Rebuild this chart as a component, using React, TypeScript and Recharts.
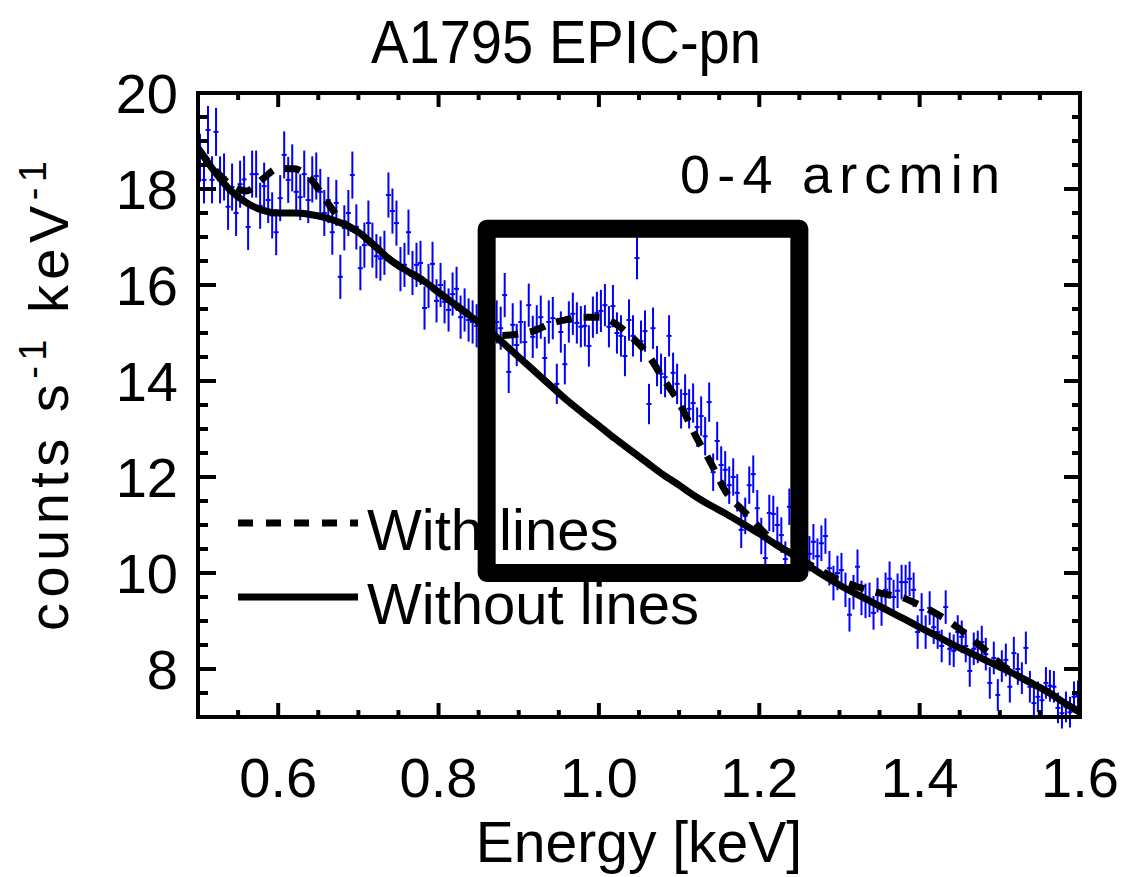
import React from 'react';
import {
  ComposedChart,
  Line,
  Scatter,
  ErrorBar,
  XAxis,
  YAxis,
  ReferenceArea,
  Legend,
} from 'recharts';

const FONT = '"Liberation Sans", Arial, sans-serif';

// spectral bins, keV
const energy = [
  0.5025, 0.5075, 0.5125, 0.5175, 0.5225, 0.5275, 0.5325, 0.5375, 0.5425, 0.5475, 0.5525, 0.5575, 0.5625, 0.5675, 0.5725, 0.5775, 0.5825, 0.5875, 0.5925, 0.5975,
  0.6025, 0.6075, 0.6125, 0.6175, 0.6225, 0.6275, 0.6325, 0.6375, 0.6425, 0.6475, 0.6525, 0.6575, 0.6625, 0.6675, 0.6725, 0.6775, 0.6825, 0.6875, 0.6925, 0.6975,
  0.7025, 0.7075, 0.7125, 0.7175, 0.7225, 0.7275, 0.7325, 0.7375, 0.7425, 0.7475, 0.7525, 0.7575, 0.7625, 0.7675, 0.7725, 0.7775, 0.7825, 0.7875, 0.7925, 0.7975,
  0.8025, 0.8075, 0.8125, 0.8175, 0.8225, 0.8275, 0.8325, 0.8375, 0.8425, 0.8475, 0.8525, 0.8575, 0.8625, 0.8675, 0.8725, 0.8775, 0.8825, 0.8875, 0.8925, 0.8975,
  0.9025, 0.9075, 0.9125, 0.9175, 0.9225, 0.9275, 0.9325, 0.9375, 0.9425, 0.9475, 0.9525, 0.9575, 0.9625, 0.9675, 0.9725, 0.9775, 0.9825, 0.9875, 0.9925, 0.9975,
  1.0025, 1.0075, 1.0125, 1.0175, 1.0225, 1.0275, 1.0325, 1.0375, 1.0425, 1.0475, 1.0525, 1.0575, 1.0625, 1.0675, 1.0725, 1.0775, 1.0825, 1.0875, 1.0925, 1.0975,
  1.1025, 1.1075, 1.1125, 1.1175, 1.1225, 1.1275, 1.1325, 1.1375, 1.1425, 1.1475, 1.1525, 1.1575, 1.1625, 1.1675, 1.1725, 1.1775, 1.1825, 1.1875, 1.1925, 1.1975,
  1.2025, 1.2075, 1.2125, 1.2175, 1.2225, 1.2275, 1.2325, 1.2375, 1.2425, 1.2475, 1.2525, 1.2575, 1.2625, 1.2675, 1.2725, 1.2775, 1.2825, 1.2875, 1.2925, 1.2975,
  1.3025, 1.3075, 1.3125, 1.3175, 1.3225, 1.3275, 1.3325, 1.3375, 1.3425, 1.3475, 1.3525, 1.3575, 1.3625, 1.3675, 1.3725, 1.3775, 1.3825, 1.3875, 1.3925, 1.3975,
  1.4025, 1.4075, 1.4125, 1.4175, 1.4225, 1.4275, 1.4325, 1.4375, 1.4425, 1.4475, 1.4525, 1.4575, 1.4625, 1.4675, 1.4725, 1.4775, 1.4825, 1.4875, 1.4925, 1.4975,
  1.5025, 1.5075, 1.5125, 1.5175, 1.5225, 1.5275, 1.5325, 1.5375, 1.5425, 1.5475, 1.5525, 1.5575, 1.5625, 1.5675, 1.5725, 1.5775, 1.5825, 1.5875, 1.5925, 1.5975,
];

// counts s^-1 keV^-1
const rate = [
  // 0.50 - 0.72
  18.65, 18.19, 19.23, 18.19, 19.19, 18.19, 18.25, 17.63, 18.04, 17.5,
  18.1, 18.2, 17.21, 18.31, 18.31, 17.65, 18.06, 17.77, 17.45, 17.1,
  17.81, 18.71, 18.19, 18.44, 17.94, 17.83, 18.31, 17.77, 18.2, 18.27,
  17.94, 17.5, 17.77, 17.1, 17.71, 16.17, 17.19, 17.5, 18.29, 17.21,
  16.35, 16.83, 17.29, 16.83,
  // 0.72 - 0.94
  16.6, 16.55, 16.67, 17.875, 17.54, 17.29, 16.33, 16.42, 17.1, 16.25,
  16.42, 16.46, 15.52, 15.98, 16.44, 15.67, 16.0, 15.65, 15.48, 15.81,
  15.92, 15.33, 15.48, 15.27, 15.23, 15.15, 14.95, 15.3, 15.0, 15.1,
  15.23, 15.1, 15.79, 14.19, 15.17, 14.75, 15.23, 14.81, 15.58, 14.92,
  15.13, 15.33, 14.48, 15.23,
  // 0.94 - 1.16
  15.31, 13.94, 15.02, 14.35, 15.23, 15.4, 15.21, 15.13, 15.15, 14.73,
  15.33, 15.42, 15.46, 15.58, 15.13, 15.56, 15.0, 14.94, 14.52, 15.27,
  14.94, 16.56, 14.83, 15.04, 13.52, 15.1, 14.31, 14.15, 14.08, 14.94,
  14.17, 13.94, 13.42, 13.73, 13.42, 13.54, 13.04, 13.27, 12.85, 13.56,
  12.1, 12.75, 12.25, 12.15, 11.83,
  // 1.16 - 1.38
  12.0, 11.67, 10.9, 11.19, 11.83, 12.06, 11.35, 10.77, 10.31, 11.25,
  11.23, 11.0, 10.79, 10.29, 11.38, 10.75, 10.6, 10.45, 10.7, 10.4,
  10.65, 10.35, 10.62, 10.77, 10.1, 9.79, 10.0, 10.06, 9.65, 9.13,
  9.6, 10.13, 9.48, 9.42, 9.44, 9.17, 9.54, 9.25, 9.65, 9.88,
  9.5, 9.63, 9.81,
  // 1.38 - 1.60
  9.81, 9.88, 9.65, 8.77, 9.23, 8.77, 9.27, 8.87, 8.77, 8.48,
  9.29, 8.42, 8.38, 8.77, 8.67, 8.48, 7.96, 8.42, 8.46, 8.56,
  8.31, 7.71, 8.23, 7.46, 8.06, 8.19, 7.63, 8.33, 8.0, 7.81,
  8.44, 7.63, 7.29, 7.42, 7.35, 7.71, 7.65, 7.63, 7.19, 7.08,
  7.21, 7.1, 7.42, 7.44,
];

const rateErr = [
  0.5, 0.49, 0.5, 0.49, 0.5, 0.49, 0.49, 0.48, 0.49, 0.48,
  0.49, 0.49, 0.48, 0.49, 0.49, 0.48, 0.49, 0.48, 0.48, 0.48,
  0.48, 0.49, 0.48, 0.49, 0.48, 0.48, 0.49, 0.48, 0.48, 0.49,
  0.48, 0.48, 0.48, 0.47, 0.48, 0.46, 0.47, 0.48, 0.49, 0.47,
  0.46, 0.47, 0.47, 0.47,
  0.46, 0.46, 0.46, 0.47, 0.47, 0.47, 0.46, 0.46, 0.47, 0.46,
  0.46, 0.46, 0.45, 0.46, 0.46, 0.45, 0.46, 0.45, 0.45, 0.45,
  0.46, 0.45, 0.45, 0.45, 0.45, 0.45, 0.45, 0.45, 0.45, 0.45,
  0.45, 0.45, 0.46, 0.44, 0.45, 0.44, 0.45, 0.44, 0.45, 0.44,
  0.45, 0.45, 0.44, 0.45,
  0.44, 0.42, 0.43, 0.42, 0.43, 0.44, 0.43, 0.43, 0.43, 0.43,
  0.43, 0.44, 0.44, 0.44, 0.43, 0.44, 0.43, 0.43, 0.42, 0.43,
  0.43, 0.44, 0.43, 0.43, 0.42, 0.43, 0.42, 0.42, 0.42, 0.43,
  0.42, 0.42, 0.41, 0.41, 0.41, 0.41, 0.41, 0.41, 0.4, 0.41,
  0.39, 0.4, 0.39, 0.39, 0.39,
  0.39, 0.39, 0.38, 0.38, 0.39, 0.39, 0.38, 0.38, 0.37, 0.38,
  0.38, 0.38, 0.37, 0.37, 0.38, 0.37, 0.37, 0.37, 0.37, 0.37,
  0.37, 0.37, 0.37, 0.37, 0.36, 0.36, 0.36, 0.36, 0.36, 0.35,
  0.36, 0.36, 0.36, 0.36, 0.36, 0.35, 0.36, 0.35, 0.36, 0.36,
  0.36, 0.36, 0.36,
  0.36, 0.36, 0.36, 0.35, 0.35, 0.35, 0.35, 0.35, 0.35, 0.34,
  0.35, 0.34, 0.34, 0.35, 0.34, 0.34, 0.33, 0.34, 0.34, 0.34,
  0.34, 0.33, 0.34, 0.33, 0.33, 0.34, 0.33, 0.34, 0.33, 0.33,
  0.34, 0.33, 0.32, 0.32, 0.32, 0.33, 0.33, 0.33, 0.32, 0.32,
  0.32, 0.32, 0.32, 0.32,
];

// model curves, every 0.02 keV
const modelEnergy = [
  0.5, 0.52, 0.54, 0.56, 0.58, 0.6, 0.62, 0.64, 0.66, 0.68,
  0.7, 0.72, 0.74, 0.76, 0.78, 0.8, 0.82, 0.84, 0.86, 0.88,
  0.9, 0.92, 0.94, 0.96, 0.98, 1.0, 1.02, 1.04, 1.06, 1.08,
  1.1, 1.12, 1.14, 1.16, 1.18, 1.2, 1.22, 1.24, 1.26, 1.28,
  1.3, 1.32, 1.34, 1.36, 1.38, 1.4, 1.42, 1.44, 1.46, 1.48,
  1.5, 1.52, 1.54, 1.56, 1.58, 1.6,
];
const withLines = [
  18.85, 18.42, 18.1, 17.96, 18.2, 18.43, 18.42, 18.22, 17.75, 17.32,
  17.1, 16.82, 16.52, 16.3, 16.1, 15.85, 15.6, 15.35, 15.08, 14.95,
  14.98, 15.05, 15.2, 15.28, 15.33, 15.33, 15.2, 14.93, 14.58, 14.05,
  13.55, 12.88, 12.28, 11.65, 11.3, 10.95, 10.62, 10.4, 10.2, 10.02,
  9.85, 9.73, 9.63, 9.55, 9.48, 9.33, 9.16, 8.95, 8.7, 8.42,
  8.12, 7.88, 7.7, 7.52, 7.3, 7.1,
];
const withoutLines = [
  18.85, 18.38, 17.98, 17.72, 17.56, 17.5, 17.5, 17.47, 17.4, 17.28,
  17.1, 16.82, 16.52, 16.3, 16.1, 15.85, 15.6, 15.35, 15.1, 14.8,
  14.5, 14.2, 13.9, 13.6, 13.33, 13.07, 12.8, 12.55, 12.3, 12.05,
  11.83, 11.6, 11.4, 11.22, 11.02, 10.82, 10.6, 10.4, 10.17, 9.95,
  9.75, 9.57, 9.4, 9.22, 9.05, 8.87, 8.7, 8.52, 8.36, 8.2,
  8.04, 7.88, 7.7, 7.52, 7.3, 7.1,
];

const xTicks = [0.55, 0.6, 0.65, 0.7, 0.75, 0.8, 0.85, 0.9, 0.95, 1.0, 1.05, 1.1, 1.15, 1.2, 1.25, 1.3, 1.35, 1.4, 1.45, 1.5, 1.55, 1.6];
const xLabels = [0.6, 0.8, 1.0, 1.2, 1.4, 1.6];
const yTicks = [7.5, 8, 8.5, 9, 9.5, 10, 10.5, 11, 11.5, 12, 12.5, 13, 13.5, 14, 14.5, 15, 15.5, 16, 16.5, 17, 17.5, 18, 18.5, 19, 19.5, 20];
const yLabels = [8, 10, 12, 14, 16, 18, 20];

// highlighted region around the Fe-L complex
const box = { x1: 0.86, x2: 1.25, y1: 10, y2: 17.17 };

const legendNames = ['With lines', 'Without lines'];

const points = energy.map((e, i) => ({ e, rate: rate[i], err: rateErr[i] }));
const model = modelEnergy.map((e, i) => ({ e, withLines: withLines[i], withoutLines: withoutLines[i] }));

const BLUE = '#0000ff';

const BottomTick = (p: any) => {
  const v = p.payload.value;
  const major = xLabels.includes(v);
  return (
    <g>
      <line x1={p.x} x2={p.x} y1={p.y} y2={p.y - (major ? 14 : 7)} stroke="#000" strokeWidth={4} />
      {major && (
        <text x={p.x} y={p.y + 80} textAnchor="middle" fontFamily={FONT} fontSize={56} fill="#000">
          {v.toFixed(1)}
        </text>
      )}
    </g>
  );
};

const TopTick = (p: any) => {
  const major = xLabels.includes(p.payload.value);
  return <line x1={p.x} x2={p.x} y1={p.y} y2={p.y + (major ? 14 : 7)} stroke="#000" strokeWidth={4} />;
};

const LeftTick = (p: any) => {
  const v = p.payload.value;
  const major = yLabels.includes(v);
  return (
    <g>
      <line x1={p.x} x2={p.x + (major ? 18 : 10)} y1={p.y} y2={p.y} stroke="#000" strokeWidth={4} />
      {major && (
        <text x={p.x - 20} y={p.y + 20} textAnchor="end" fontFamily={FONT} fontSize={56} fill="#000">
          {v}
        </text>
      )}
    </g>
  );
};

const RightTick = (p: any) => {
  const major = yLabels.includes(p.payload.value);
  return <line x1={p.x} x2={p.x - (major ? 16 : 8)} y1={p.y} y2={p.y} stroke="#000" strokeWidth={4} />;
};

const renderLegend = (props: any) => {
  const items = (props.payload || [])
    .filter((it: any) => legendNames.includes(it.value))
    .sort((a: any, b: any) => legendNames.indexOf(a.value) - legendNames.indexOf(b.value));
  return (
    <svg width={560} height={200} style={{ overflow: 'visible', display: 'block' }}>
      {items.map((it: any, i: number) => (
        <g key={it.value} transform={`translate(0, ${i * 74})`}>
          <line
            x1={6}
            x2={126}
            y1={35}
            y2={35}
            stroke="#000"
            strokeWidth={7}
            strokeDasharray={it.value === 'With lines' ? '15 13' : undefined}
          />
          <text x={135} y={62} fontFamily={FONT} fontSize={58} fill="#000">
            {it.value}
          </text>
        </g>
      ))}
    </svg>
  );
};

const axisLine = { stroke: '#000', strokeWidth: 4, strokeLinecap: 'square' as const };

export default function App() {
  return (
    <div style={{ position: 'absolute', left: 0, top: 0, width: 1126, height: 877, background: '#fff' }}>
      <ComposedChart width={1126} height={877} margin={{ top: 92, right: 45, bottom: 80, left: 98 }}>
        <XAxis
          xAxisId="x"
          dataKey="e"
          type="number"
          domain={[0.5, 1.6]}
          allowDataOverflow
          ticks={xTicks}
          interval={0}
          tickSize={0}
          tickMargin={0}
          tickLine={false}
          tick={(p: any) => <BottomTick {...p} />}
          axisLine={axisLine}
          height={80}
        />
        <XAxis
          xAxisId="top"
          dataKey="e"
          orientation="top"
          type="number"
          domain={[0.5, 1.6]}
          allowDataOverflow
          ticks={xTicks}
          interval={0}
          tickSize={0}
          tickMargin={0}
          tickLine={false}
          tick={(p: any) => <TopTick {...p} />}
          axisLine={axisLine}
          height={1}
        />
        <YAxis
          yAxisId="y"
          type="number"
          domain={[7, 20]}
          allowDataOverflow
          ticks={yTicks}
          interval={0}
          tickSize={0}
          tickMargin={0}
          tickLine={false}
          tick={(p: any) => <LeftTick {...p} />}
          axisLine={axisLine}
          width={100}
        />
        <YAxis
          yAxisId="right"
          orientation="right"
          type="number"
          domain={[7, 20]}
          allowDataOverflow
          ticks={yTicks}
          interval={0}
          tickSize={0}
          tickMargin={0}
          tickLine={false}
          tick={(p: any) => <RightTick {...p} />}
          axisLine={axisLine}
          width={1}
        />
        <Scatter
          xAxisId="x"
          yAxisId="y"
          data={points}
          dataKey="rate"
          legendType="none"
          isAnimationActive={false}
          zIndex={300}
          shape={(p: any) => (
            <line x1={p.cx - 2.5} x2={p.cx + 2.5} y1={p.cy} y2={p.cy} stroke={BLUE} strokeWidth={2} />
          )}
        >
          <ErrorBar dataKey="err" direction="y" width={0} stroke={BLUE} strokeWidth={2} isAnimationActive={false} />
        </Scatter>
        {/* invisible copy that keeps the mirrored top/right axes alive */}
        <Line
          xAxisId="top"
          yAxisId="right"
          data={model}
          dataKey="withoutLines"
          name="mirror"
          stroke="none"
          legendType="none"
          dot={false}
          activeDot={false}
          isAnimationActive={false}
        />
        <Line
          xAxisId="x"
          yAxisId="y"
          data={model}
          dataKey="withoutLines"
          name="Without lines"
          type="monotone"
          stroke="#000"
          strokeWidth={7}
          dot={false}
          activeDot={false}
          isAnimationActive={false}
          zIndex={500}
        />
        <Line
          xAxisId="x"
          yAxisId="y"
          data={model}
          dataKey="withLines"
          name="With lines"
          type="monotone"
          stroke="#000"
          strokeWidth={7}
          strokeDasharray="16 12"
          dot={false}
          activeDot={false}
          isAnimationActive={false}
          zIndex={510}
        />
        <ReferenceArea
          xAxisId="x"
          yAxisId="y"
          x1={box.x1}
          x2={box.x2}
          y1={box.y1}
          y2={box.y2}
          fill="none"
          stroke="#000"
          strokeWidth={18}
          strokeLinejoin="round"
          zIndex={1000}
        />
        <Legend
          layout="vertical"
          align="center"
          verticalAlign="middle"
          content={renderLegend}
          wrapperStyle={{ left: 232, top: 488, width: 560, height: 200 }}
        />
      </ComposedChart>
      <svg
        width={1126}
        height={877}
        style={{ position: 'absolute', left: 0, top: 0, pointerEvents: 'none' }}
      >
        <text x={566} y={63} textAnchor="middle" fontFamily={FONT} fontSize={62} textLength={390} lengthAdjust="spacingAndGlyphs" fill="#000">
          A1795 EPIC-pn
        </text>
        <text x={680} y={193} fontFamily={FONT} fontSize={54} textLength={320} lengthAdjust="spacing" fill="#000">
          0-4 arcmin
        </text>
        <text x={639} y={862} textAnchor="middle" fontFamily={FONT} fontSize={57} fill="#000">
          Energy [keV]
        </text>
        <text
          transform="translate(68,396) rotate(-90)"
          textAnchor="middle"
          fontFamily={FONT}
          fontSize={56}
          textLength={470}
          lengthAdjust="spacing"
          fill="#000"
        >
          counts s<tspan dy={-22} fontSize={38}>-1</tspan>
          <tspan dy={22}> keV</tspan>
          <tspan dy={-22} fontSize={38}>-1</tspan>
        </text>
      </svg>
    </div>
  );
}
